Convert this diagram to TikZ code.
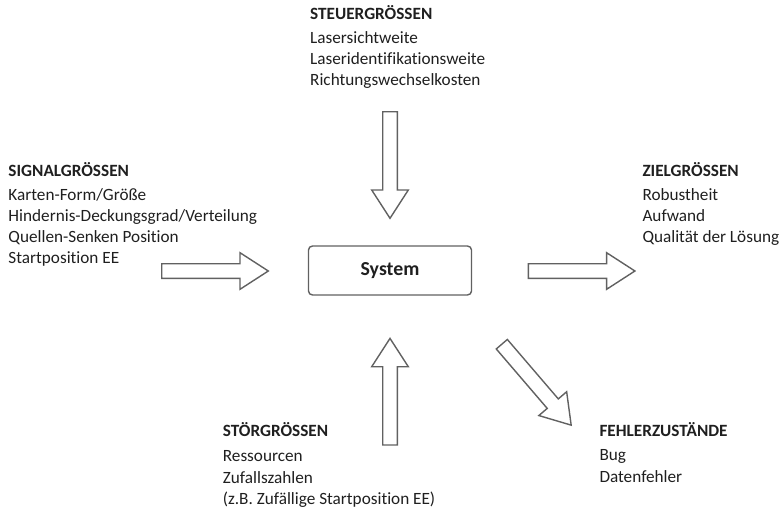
\documentclass[tikz,border=0pt]{standalone}
\usepackage{fontspec}
\setmainfont{Carlito}[Ligatures=NoCommon]
\begin{document}
\begin{tikzpicture}[x=1pt,y=-1pt,
  txt/.style={anchor=base west,inner sep=0pt,font=\fontsize{17.2}{20}\selectfont,text=black!88},
  head/.style={txt,font=\fontsize{17.2}{20}\selectfont\bfseries},
  arrowline/.style={draw=black!62,line width=1.4pt,fill=white,line join=miter},
  sysbox/.style={draw=black!62,line width=1.4pt,rounded corners=4pt,minimum width=163pt,minimum height=49pt,
    font=\fontsize{19.8}{22}\selectfont\bfseries,text=black!88},
  pics/blockarrow/.style={code={
    \path[arrowline] (0,-7.3) -- (78.3,-7.3) -- (78.3,-18.3) -- (106.6,0)
      -- (78.3,18.3) -- (78.3,7.3) -- (0,7.3) -- cycle;}}]
\useasboundingbox (0,0) rectangle (783,508);

% central block
\node[sysbox] (sys) at (390,270.5) {System};

% control variables
\node[head] (st0) at (310,20) {STEUERGRÖSSEN};
\node[txt] (st1) at (310,44) {Lasersichtweite};
\node[txt] (st2) at (310,65) {Laseridentifikationsweite};
\node[txt] (st3) at (310,86) {Richtungswechselkosten};

% signal variables
\node[head] (si0) at (8.3,176.7) {SIGNALGRÖSSEN};
\node[txt] (si1) at (8.3,200.7) {Karten-Form/Größe};
\node[txt] (si2) at (8.3,221.7) {Hindernis-Deckungsgrad/Verteilung};
\node[txt] (si3) at (8.3,242.7) {Quellen-Senken Position};
\node[txt] (si4) at (8.3,263.7) {Startposition EE};

% target variables
\node[head] (zi0) at (642.3,176.7) {ZIELGRÖSSEN};
\node[txt] (zi1) at (642.3,200.7) {Robustheit};
\node[txt] (zi2) at (642.3,221.7) {Aufwand};
\node[txt] (zi3) at (642.3,242.7) {Qualität der Lösung};

% disturbance variables
\node[head] (sr0) at (222.7,436.7) {STÖRGRÖSSEN};
\node[txt] (sr1) at (222.7,461.7) {Ressourcen};
\node[txt] (sr2) at (222.7,483) {Zufallszahlen};
\node[txt] (sr3) at (222.7,504) {(z.B. Zufällige Startposition EE)};

% error states
\node[head] (fe0) at (599.3,436.3) {FEHLERZUSTÄNDE};
\node[txt] (fe1) at (599.3,460.7) {Bug};
\node[txt] (fe2) at (599.3,482) {Datenfehler};

% block arrows (tail centres)
\coordinate (aTop) at (390,111.7);
\coordinate (aBot) at (390,445);
\coordinate (aLeft) at (161.7,271);
\coordinate (aRight) at (528.3,271);
\coordinate (aDiag) at (501.8,344.2);

\pic[rotate=-90] at (aTop) {blockarrow};
\pic[rotate=90] at (aBot) {blockarrow};
\pic at (aLeft) {blockarrow};
\pic at (aRight) {blockarrow};
\pic[rotate=-49.4] at (aDiag) {blockarrow};
\end{tikzpicture}
\end{document}
